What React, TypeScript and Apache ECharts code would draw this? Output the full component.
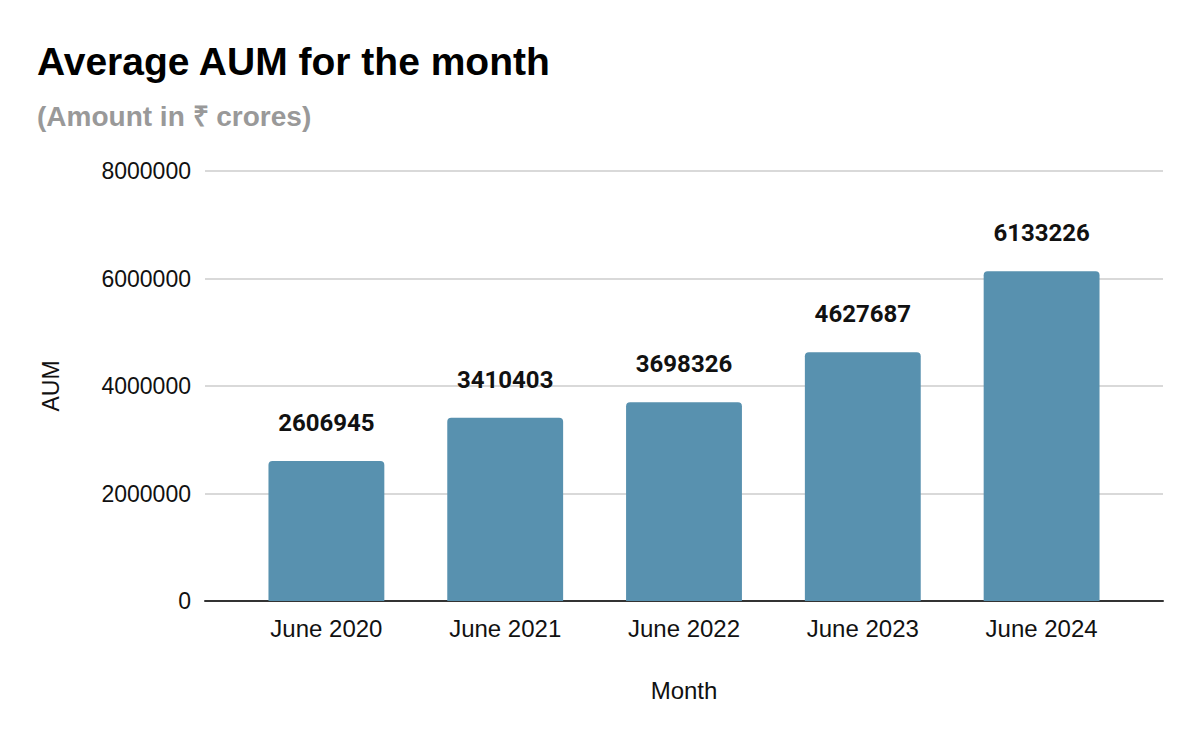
import React, { useEffect, useRef } from "react";
import * as echarts from "echarts";

const categories = ["June 2020", "June 2021", "June 2022", "June 2023", "June 2024"];
const aumValues = [2606945, 3410403, 3698326, 4627687, 6133226];
const yTicks = { min: 0, max: 8000000, interval: 2000000 };

export default function App() {
  const ref = useRef<HTMLDivElement>(null);
  useEffect(() => {
    const chart = echarts.init(ref.current!, null, { renderer: "svg" });
    chart.setOption({
      animation: false,
      backgroundColor: "#ffffff",
      graphic: [
        {
          type: "text",
          left: 37,
          top: 42,
          style: {
            text: "Average AUM for the month",
            fontFamily: "Liberation Sans",
            fontWeight: "bold",
            fontSize: 39,
            fill: "#000000",
          },
        },
        {
          type: "text",
          left: 37,
          top: 102,
          style: {
            text: "(Amount in ₹ crores)",
            fontFamily: "Liberation Sans",
            fontWeight: "bold",
            fontSize: 28,
            fill: "#999999",
          },
        },
      ],
      grid: [
        { left: 205, right: 37, top: 171, bottom: 141 },
        { left: 237, right: 69, top: 171, bottom: 141 },
      ],
      xAxis: [
        {
          gridIndex: 0,
          type: "value",
          min: 0,
          max: 1,
          name: "Month",
          nameLocation: "middle",
          nameGap: 77,
          nameTextStyle: { fontFamily: "Liberation Sans", fontSize: 24, color: "#111" },
          axisLine: { show: true, lineStyle: { color: "#333", width: 2 } },
          axisTick: { show: false },
          axisLabel: { show: false },
          splitLine: { show: false },
        },
        {
          gridIndex: 1,
          type: "category",
          data: categories,
          axisLine: { show: false },
          axisTick: { show: false },
          axisLabel: { fontFamily: "Liberation Sans", fontSize: 24, color: "#111", margin: 15 },
        },
      ],
      yAxis: [
        {
          gridIndex: 0,
          type: "value",
          min: yTicks.min,
          max: yTicks.max,
          interval: yTicks.interval,
          name: "AUM",
          nameLocation: "middle",
          nameGap: 143,
          nameRotate: 90,
          nameTextStyle: { fontFamily: "Liberation Sans", fontSize: 23, color: "#111" },
          axisLine: { show: false },
          axisTick: { show: false },
          axisLabel: {
            fontFamily: "Liberation Sans",
            fontSize: 23,
            color: "#111",
            margin: 14,
            formatter: (v: number) => String(v),
          },
          splitLine: { lineStyle: { color: "#cccccc", width: 1.5 } },
        },
        {
          gridIndex: 1,
          type: "value",
          min: yTicks.min,
          max: yTicks.max,
          interval: yTicks.interval,
          show: false,
          splitLine: { show: false },
        },
      ],
      series: [
        {
          type: "bar",
          xAxisIndex: 1,
          yAxisIndex: 1,
          data: aumValues,
          barWidth: "64.8%",
          itemStyle: { color: "#5891af", borderRadius: [4, 4, 0, 0] },
          label: {
            show: true,
            position: "top",
            distance: 26,
            fontFamily: "Roboto",
            fontWeight: "bold",
            fontSize: 24,
            color: "#111",
          },
        },
      ],
    });
    return () => chart.dispose();
  }, []);
  return <div ref={ref} style={{ position: "fixed", left: 0, top: 0, width: 1200, height: 742 }} />;
}
